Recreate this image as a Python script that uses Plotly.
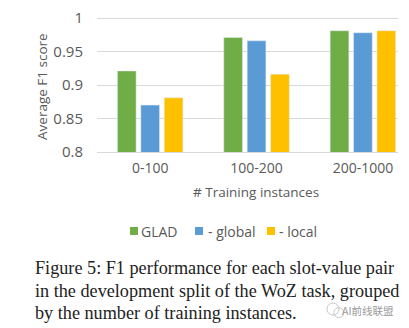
import plotly.graph_objects as go

# data
groups = ["0-100", "100-200", "200-1000"]
glad = [0.921, 0.971, 0.981]
glad_global = [0.870, 0.966, 0.978]
glad_local = [0.881, 0.916, 0.981]
y_ticks = [0.8, 0.85, 0.9, 0.95, 1.0]
y_tick_text = ["0.8", "0.85", "0.9", "0.95", "1"]

series_names = ["GLAD", "- global", "- local"]
colors = ["#70AD47", "#5B9BD5", "#FFC000"]

caption = [
    "Figure 5: F1 performance for each slot-value pair",
    "in the development split of the WoZ task, grouped",
    "by the number of training instances.",
]

gray = "#595959"
font = "Open Sans"

fig = go.Figure()
for name, vals, col in zip(series_names, [glad, glad_global, glad_local], colors):
    fig.add_trace(go.Bar(x=groups, y=vals, name=name, marker_color=col, showlegend=False))

# page body adds an 8px margin, so the figure is 8px smaller on each side
fig.update_layout(
    width=401, height=320,
    margin=dict(l=89, r=11, t=8, b=176, autoexpand=False),
    plot_bgcolor="white", paper_bgcolor="white",
    barmode="group", bargap=0.34, bargroupgap=0.2,
    font=dict(family=font, color=gray, size=13),
)
fig.update_xaxes(
    range=[-0.5, 2.33], showgrid=False, showline=True, linecolor="#D9D9D9",
    ticks="", tickfont=dict(size=14, color=gray), ticklabelstandoff=3,
)
# small headroom above 1 so the top gridline is drawn
fig.update_yaxes(
    range=[0.8, 1.003], tickvals=y_ticks, ticktext=y_tick_text,
    showgrid=True, gridcolor="#D9D9D9", zeroline=False, showline=False,
    tickfont=dict(size=15, color=gray), ticklabelstandoff=13,
    ticklabeloverflow="allow",
)

fig.add_annotation(
    text="Average F1 score", textangle=-90, xref="paper", yref="paper",
    x=-0.183, y=0.485, xanchor="center", yanchor="middle", showarrow=False,
    font=dict(size=13.5, color=gray),
)
fig.add_annotation(
    text="# Training instances", xref="paper", yref="paper",
    x=0.528, y=-0.296, xanchor="center", yanchor="middle", showarrow=False,
    font=dict(size=13.5, color=gray),
)

# legend: small coloured squares with text beside them
legend_sq_x = [0.1096, 0.3256, 0.5648]
legend_txt_x = [0.1395, 0.3621, 0.598]
for name, col, sx, tx in zip(series_names, colors, legend_sq_x, legend_txt_x):
    fig.add_shape(
        type="rect", xref="paper", yref="paper",
        x0=sx, x1=sx + 0.0266, y0=-0.610, y1=-0.5515,
        fillcolor=col, line_width=0,
    )
    fig.add_annotation(
        text=name, xref="paper", yref="paper", x=tx, xanchor="left",
        y=-0.581, yanchor="middle", showarrow=False,
        font=dict(size=14, color=gray),
    )

for i, line in enumerate(caption):
    fig.add_annotation(
        text=line, xref="paper", yref="paper", x=-0.213, xanchor="left",
        y=-0.853 - i * 0.1655, yanchor="middle", showarrow=False,
        font=dict(family="Liberation Serif", size=18.2, color="#222222"),
    )

# watermark: faint chat-bubble icon and account name
fig.add_shape(type="circle", xref="paper", yref="paper",
              x0=0.764, x1=0.804, y0=-1.199, y1=-1.110,
              line=dict(color="#c8c8c8", width=1))
fig.add_shape(type="circle", xref="paper", yref="paper",
              x0=0.787, x1=0.82, y0=-1.218, y1=-1.145,
              line=dict(color="#c8c8c8", width=1))
fig.add_annotation(
    text="AI前线联盟", xref="paper", yref="paper", x=0.993, xanchor="right",
    y=-1.163, yanchor="middle", showarrow=False,
    font=dict(family="Noto Sans CJK SC", size=10.5, color="#9a9a9a"),
)

fig.write_html("out.html")
